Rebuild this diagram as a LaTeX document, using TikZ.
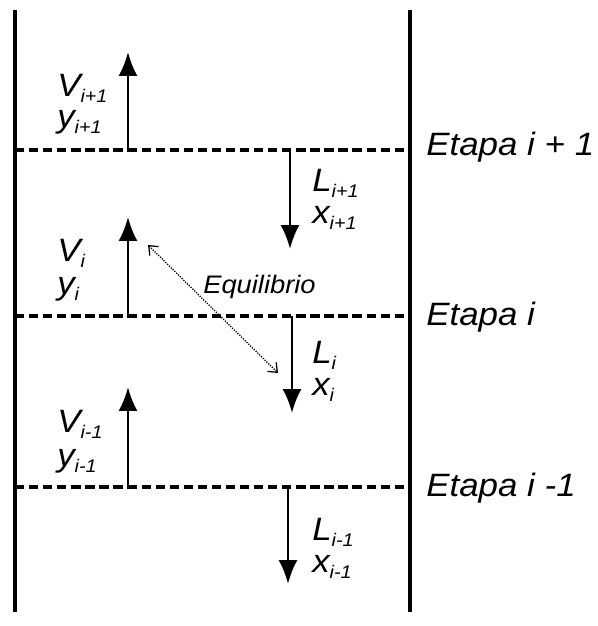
\documentclass[tikz,border=0pt]{standalone}
\usepackage{fontspec}
\setmainfont{Liberation Sans}[FakeStretch=1.08]
\usetikzlibrary{arrows.meta}
\newcommand{\lowsub}[1]{\raisebox{-0.2em}{\fontsize{13}{15}\selectfont #1}}

\begin{document}
\begin{tikzpicture}[x=0.025cm,y=-0.025cm,
  wall/.style={line width=3.2pt},
  stageline/.style={line width=2.6pt, dash pattern=on 6.6pt off 3.4pt},
  flow/.style={line width=1.8pt, -{Latex[length=17pt,width=13.5pt]}},
  lbl/.style={anchor=base west, inner sep=0pt, font=\fontsize{23}{27}\selectfont\itshape},
  eqlbl/.style={anchor=base west, inner sep=0pt, font=\fontsize{18}{21}\selectfont\itshape},
  eqarrow/.style={line width=0.9pt, dash pattern=on 0.9pt off 0.9pt,
    {Straight Barb[length=5.5pt,width=9pt]}-{Straight Barb[length=5.5pt,width=9pt]}}]
\useasboundingbox (0,0) rectangle (598,626);

% column walls
\coordinate (wlt) at (15,10);  \coordinate (wlb) at (15,612);
\coordinate (wrt) at (410,10); \coordinate (wrb) at (410,612);
\draw[wall] (wlt) -- (wlb);
\draw[wall] (wrt) -- (wrb);

% stage boundaries
\coordinate (s1l) at (15,150); \coordinate (s1r) at (410,150);
\coordinate (s2l) at (15,316); \coordinate (s2r) at (410,316);
\coordinate (s3l) at (15,487); \coordinate (s3r) at (410,487);
\draw[stageline] (s1l) -- (s1r);
\draw[stageline] (s2l) -- (s2r);
\draw[stageline] (s3l) -- (s3r);
\node[lbl] (et1) at (426,155) {Etapa i + 1};
\node[lbl] (et2) at (426,325) {Etapa i};
\node[lbl] (et3) at (426,496) {Etapa i -1};

% vapour going up
\coordinate (v1a) at (128,150); \coordinate (v1b) at (128,52);
\coordinate (v2a) at (128,316); \coordinate (v2b) at (128,217);
\coordinate (v3a) at (128,487); \coordinate (v3b) at (128,387);
\draw[flow] (v1a) -- (v1b);
\draw[flow] (v2a) -- (v2b);
\draw[flow] (v3a) -- (v3b);
\node[lbl] (V1) at (57,96)  {V\lowsub{i+1}};
\node[lbl] (y1) at (57,127) {y\lowsub{i+1}};
\node[lbl] (V2) at (57,261) {V\lowsub{i}};
\node[lbl] (y2) at (57,294) {y\lowsub{i}};
\node[lbl] (V3) at (57,432) {V\lowsub{i-1}};
\node[lbl] (y3) at (57,466) {y\lowsub{i-1}};

% liquid going down
\coordinate (l1a) at (290,150); \coordinate (l1b) at (290,249);
\coordinate (l2a) at (292,316); \coordinate (l2b) at (292,413);
\coordinate (l3a) at (288,487); \coordinate (l3b) at (288,584);
\draw[flow] (l1a) -- (l1b);
\draw[flow] (l2a) -- (l2b);
\draw[flow] (l3a) -- (l3b);
\node[lbl] (L1) at (312,191) {L\lowsub{i+1}};
\node[lbl] (x1) at (312,223) {x\lowsub{i+1}};
\node[lbl] (L2) at (312,363) {L\lowsub{i}};
\node[lbl] (x2) at (312,395) {x\lowsub{i}};
\node[lbl] (L3) at (312,540) {L\lowsub{i-1}};
\node[lbl] (x3) at (312,572) {x\lowsub{i-1}};

% equilibrium between V_i and L_i
\coordinate (eqa) at (148,245); \coordinate (eqb) at (278,373);
\draw[eqarrow] (eqa) -- (eqb);
\node[eqlbl] (eq) at (203,293) {Equilibrio};
\end{tikzpicture}
\end{document}
